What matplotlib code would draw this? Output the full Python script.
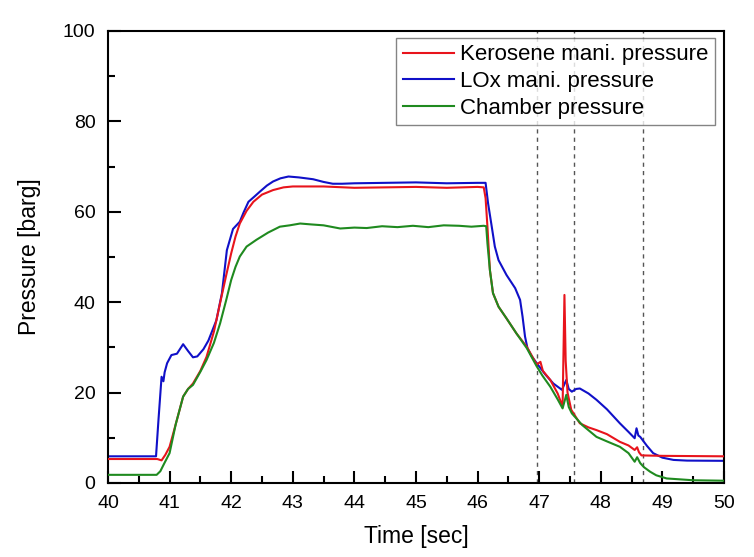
import matplotlib
matplotlib.use("Agg")
import matplotlib.pyplot as plt
from matplotlib.ticker import MultipleLocator

plt.rcParams['font.family'] = ['Liberation Sans', 'DejaVu Sans']

# values (time in sec, pressure in barg)
kero_t = [40.0, 40.80, 40.87, 40.93, 41.0, 41.1, 41.22, 41.3, 41.38, 41.5, 41.6, 41.72,
          41.82, 41.92, 42.0, 42.07, 42.14, 42.25, 42.36, 42.5, 42.68, 42.85, 43.0, 43.5,
          44.0, 44.5, 45.0, 45.5, 46.0, 46.1, 46.13, 46.16, 46.2, 46.25, 46.34, 46.47,
          46.63, 46.8, 46.96, 47.02, 47.06, 47.18, 47.3, 47.38, 47.41, 47.43, 47.46,
          47.52, 47.66, 47.8, 47.93, 48.1, 48.31, 48.45, 48.55, 48.59, 48.62, 48.66,
          49.0, 50.0]
kero_p = [5.3, 5.3, 5.0, 6.2, 8.0, 13.0, 19.1, 20.8, 22.0, 24.8, 27.9, 33.5,
          39.8, 46.0, 50.8, 54.5, 57.4, 60.2, 62.2, 63.8, 64.8, 65.4, 65.6, 65.6,
          65.3, 65.4, 65.5, 65.3, 65.5, 65.4, 63.0, 56.7, 47.1, 42.0, 39.0, 36.4,
          33.1, 30.1, 26.2, 26.8, 24.8, 22.8, 19.8, 16.9, 41.6, 27.0, 20.0,
          16.2, 13.2, 12.3, 11.7, 10.8, 9.1, 8.3, 7.3, 7.9, 6.8, 6.1,
          6.0, 5.9]

lox_t = [40.0, 40.78, 40.82, 40.87, 40.9, 40.92, 40.96, 41.03, 41.12, 41.22, 41.3, 41.38,
         41.45, 41.55, 41.63, 41.76, 41.85, 41.93, 42.03, 42.14, 42.2, 42.28, 42.38,
         42.47, 42.58, 42.68, 42.8, 42.93, 43.1, 43.33, 43.5, 43.65, 43.8, 44.0, 44.5,
         45.0, 45.5, 46.0, 46.13, 46.17, 46.23, 46.28, 46.34, 46.47, 46.61, 46.69, 46.73,
         46.77, 46.81, 46.88, 46.96, 47.1, 47.23, 47.37, 47.44, 47.48, 47.53, 47.6, 47.66,
         47.8, 47.93, 48.1, 48.31, 48.45, 48.55, 48.58, 48.61, 48.64, 48.75, 48.85,
         49.0, 49.18, 49.4, 50.0]
lox_p = [5.9, 5.9, 14.0, 23.5, 22.5, 24.5, 26.5, 28.3, 28.6, 30.7, 29.2, 27.8,
         28.0, 29.6, 31.5, 36.0, 42.0, 51.5, 56.2, 57.8, 59.8, 62.2, 63.4,
         64.5, 65.8, 66.7, 67.4, 67.8, 67.6, 67.2, 66.6, 66.2, 66.2, 66.3, 66.4,
         66.5, 66.3, 66.4, 66.4, 61.9, 56.7, 52.3, 49.3, 46.0, 43.1, 40.5, 36.8,
         32.4, 29.8, 28.0, 26.5, 24.0, 22.0, 20.6, 22.8, 20.8, 20.2, 20.8, 20.9,
         19.8, 18.4, 16.3, 13.2, 11.3, 9.9, 12.1, 10.5, 10.2, 8.2, 6.6,
         5.6, 5.1, 4.95, 4.9]

cham_t = [40.0, 40.79, 40.85, 40.92, 41.0, 41.1, 41.22, 41.3, 41.38, 41.5, 41.6, 41.72,
          41.82, 41.92, 42.0, 42.07, 42.14, 42.25, 42.41, 42.6, 42.79, 42.95, 43.12, 43.3,
          43.5, 43.77, 44.0, 44.2, 44.45, 44.7, 44.95, 45.2, 45.45, 45.7, 45.9, 46.1,
          46.14, 46.16, 46.2, 46.25, 46.34, 46.47, 46.63, 46.8, 46.96, 47.05, 47.18, 47.3,
          47.38, 47.44, 47.48, 47.53, 47.7, 47.93, 48.1, 48.31, 48.45, 48.55, 48.59, 48.64,
          48.7, 48.8, 48.9, 49.07, 49.5, 50.0]
cham_p = [1.8, 1.8, 2.6, 4.5, 6.6, 13.0, 19.1, 20.8, 21.7, 24.6, 27.2, 31.0,
          35.3, 40.5, 44.9, 47.8, 50.1, 52.3, 53.8, 55.4, 56.7, 57.0, 57.4, 57.2,
          57.0, 56.3, 56.5, 56.4, 56.8, 56.6, 56.9, 56.6, 57.0, 56.9, 56.7, 56.9,
          56.8, 53.0, 47.1, 42.0, 39.0, 36.4, 33.1, 29.8, 25.8, 23.8, 21.3, 18.5,
          16.5, 19.5, 16.8, 15.4, 12.8, 10.2, 9.2, 8.0, 6.6, 4.7, 5.7, 4.4,
          3.5, 2.5, 1.7, 1.0, 0.6, 0.5]

event_t = [46.97, 47.57, 48.69]

fig = plt.figure(figsize=(7.54, 5.57), dpi=100)
ax = fig.add_axes([0.1432, 0.1329, 0.817, 0.8115])

ax.plot(kero_t, kero_p, color='#e8141c', lw=1.5, label='Kerosene mani. pressure', zorder=3)
ax.plot(lox_t, lox_p, color='#1010c8', lw=1.5, label='LOx mani. pressure', zorder=2)
ax.plot(cham_t, cham_p, color='#1f8a1f', lw=1.5, label='Chamber pressure', zorder=4)

for t in event_t:
    ax.axvline(t, color='#555555', lw=1.0, ls=(0, (3, 3)), zorder=1)

ax.set_xlim(40, 50)
ax.set_ylim(0, 100)
ax.xaxis.set_major_locator(MultipleLocator(1))
ax.xaxis.set_minor_locator(MultipleLocator(0.5))
ax.yaxis.set_major_locator(MultipleLocator(20))
ax.yaxis.set_minor_locator(MultipleLocator(10))
ax.tick_params(which='major', direction='in', length=9, width=1.5, labelsize=14, pad=9)
ax.tick_params(which='minor', direction='in', length=5, width=1.5)
for s in ax.spines.values():
    s.set_linewidth(1.5)

ax.set_xlabel('Time [sec]', fontsize=16.5, labelpad=9)
ax.set_ylabel('Pressure [barg]', fontsize=16.5, labelpad=16)

leg = ax.legend(loc='upper right', bbox_to_anchor=(0.986, 0.985), fontsize=16,
                frameon=True, fancybox=False, edgecolor='#666666', handlelength=2.3,
                handletextpad=0.3, borderpad=0.3, labelspacing=0.25, borderaxespad=0)
leg.get_frame().set_linewidth(1.0)

fig.savefig('out.png', dpi=100)
